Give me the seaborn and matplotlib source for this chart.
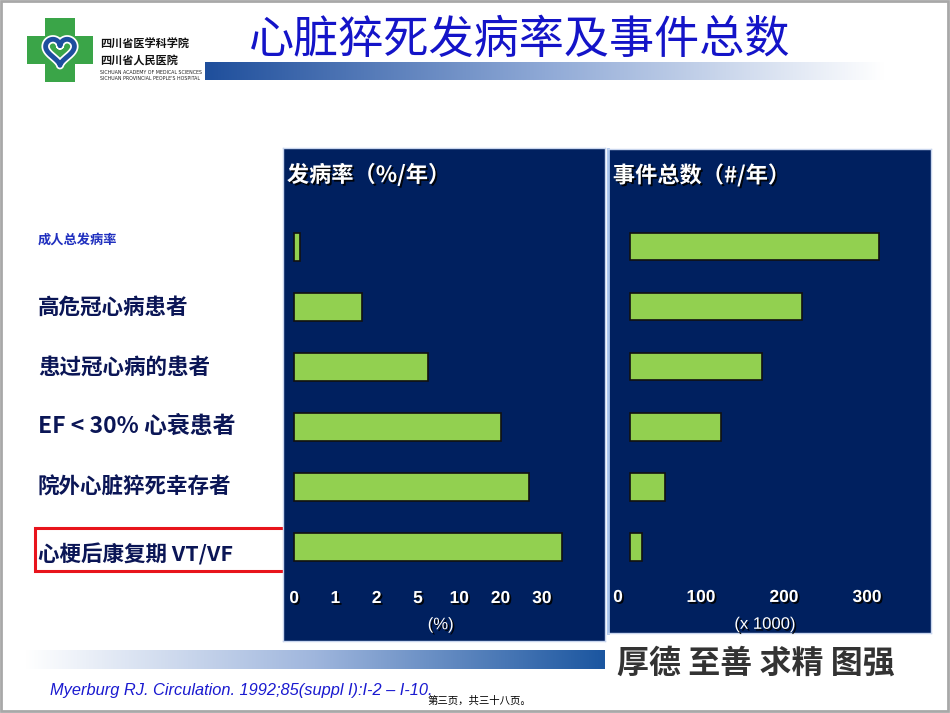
import numpy as np
import pandas as pd
import matplotlib
matplotlib.use("Agg")
import matplotlib.pyplot as plt
import matplotlib.patheffects as pe
from matplotlib.patches import Rectangle, Polygon
from matplotlib.colors import LinearSegmentedColormap
from matplotlib.transforms import blended_transform_factory, ScaledTranslation
import seaborn as sns

# ---------------------------------------------------------------------------
# Data
# ---------------------------------------------------------------------------
groups = ["成人总发病率", "高危冠心病患者", "患过冠心病的患者",
          "EF < 30% 心衰患者", "院外心脏猝死幸存者", "心梗后康复期 VT/VF"]
rate_pct = [0.15, 1.65, 6.2, 20.0, 26.8, 34.8]      # % per year
events_k = [300, 207, 159, 110, 42, 14]             # events per year, x 1000
rate_ticks = [0, 1, 2, 5, 10, 20, 30]
event_ticks = [0, 100, 200, 300]

NAVY = "#00205f"
GREEN = "#92d050"
INK = "#0b1656"
W, H = 950, 713

sns.set_theme(style="white")
plt.rcParams["font.family"] = ["Noto Sans CJK SC", "DejaVu Sans"]

shadow = [pe.SimplePatchShadow(offset=(1.3, -1.3), shadow_rgbFace="black", alpha=0.9),
          pe.Normal()]


def rect(x0, y0, x1, y1):
    """pixel box (top-left origin) -> figure fraction rect"""
    return [x0 / W, 1 - y1 / H, (x1 - x0) / W, (y1 - y0) / H]


# rate axis on the slide is piecewise: each tick gets the same width
def rate_fwd(v):
    v = np.asarray(v, float)
    out = np.interp(v, rate_ticks, np.arange(len(rate_ticks)))
    out = np.where(v < 0, v, out)
    return np.where(v > rate_ticks[-1], len(rate_ticks) - 1 + (v - rate_ticks[-1]) / 10, out)


def rate_inv(p):
    p = np.asarray(p, float)
    n = len(rate_ticks) - 1
    out = np.interp(p, np.arange(len(rate_ticks)), rate_ticks)
    out = np.where(p < 0, p, out)
    return np.where(p > n, rate_ticks[-1] + (p - n) * 10, out)


df = pd.DataFrame({"group": groups, "rate": rate_pct, "events": events_k})

fig = plt.figure(figsize=(9.5, 7.13), dpi=100)

# ---------------------------------------------------------------------------
# slide decoration (header, footer, frame)
# ---------------------------------------------------------------------------
deco = fig.add_axes([0, 0, 1, 1], zorder=0)
deco.set_xlim(0, W); deco.set_ylim(H, 0); deco.axis("off")

grad = np.linspace(0, 1, 256).reshape(1, -1)
top_cmap = LinearSegmentedColormap.from_list("top", ["#1f4f9c", "#8fa9d6", "#ffffff"])
deco.imshow(grad, cmap=top_cmap, extent=(205, 885, 80, 62), aspect="auto", zorder=1)
bot_cmap = LinearSegmentedColormap.from_list("bot", ["#ffffff", "#9fb6dd", "#1b56a0"])
deco.imshow(grad, cmap=bot_cmap, extent=(25, 605, 669, 650), aspect="auto", zorder=1)

# logo: green cross with blue heart
cross = [(45, 18), (75, 18), (75, 36), (93, 36), (93, 64), (75, 64), (75, 82),
         (45, 82), (45, 64), (27, 64), (27, 36), (45, 36)]
deco.add_patch(Polygon(cross, closed=True, fc="#3aa548", ec="none", zorder=2))
t = np.linspace(0, 2 * np.pi, 200)
hx = 60 + 16 * np.sin(t) ** 3 * 0.9
hy = 50 - (13 * np.cos(t) - 5 * np.cos(2 * t) - 2 * np.cos(3 * t) - np.cos(4 * t)) * 0.9
deco.plot(hx, hy, color="white", lw=6, zorder=3)
deco.plot(hx, hy, color="#1d4f9e", lw=3.5, zorder=4)
deco.text(100, 44, "四川省医学科学院", fontsize=8, fontweight="bold", color="#111",
          va="center", ha="left")
deco.text(100, 60, "四川省人民医院", fontsize=8, fontweight="bold", color="#111",
          va="center", ha="left")
deco.text(100, 73, "SICHUAN ACADEMY OF MEDICAL SCIENCES", fontsize=3.4, color="#222",
          va="center", ha="left", family="DejaVu Sans")
deco.text(100, 79, "SICHUAN PROVINCIAL PEOPLE'S HOSPITAL", fontsize=3.4, color="#222",
          va="center", ha="left", family="DejaVu Sans")

deco.text(520, 40, "心脏猝死发病率及事件总数", fontsize=32.5, color="#1414c8",
          ha="center", va="center", zorder=5)

deco.text(756, 664, "厚德 至善 求精 图强", fontsize=23, fontweight="bold",
          color="#333333", ha="center", va="center")
deco.text(50, 690, "Myerburg RJ. Circulation. 1992;85(suppl I):I-2 – I-10.",
          fontsize=11.8, style="italic", color="#1a1ad0", ha="left", va="center",
          family="Liberation Sans")
deco.text(428, 701, "第三页，共三十八页。", fontsize=7.5, color="black",
          ha="left", va="center")

# highlight box around the last group
deco.add_patch(Rectangle((35, 528), 249, 43, fill=False, ec="#e8141c", lw=2.2, zorder=6))
# slide frame
deco.add_patch(Rectangle((1, 1), W - 3, H - 3, fill=False, ec="#a8a8a8", lw=2, zorder=6))

# ---------------------------------------------------------------------------
# left panel: incidence rate
# ---------------------------------------------------------------------------
ax1 = fig.add_axes(rect(283, 148, 605, 641), zorder=2)
sns.barplot(data=df, x="rate", y="group", orient="h", color=GREEN, saturation=1,
            edgecolor="#111111", linewidth=1.2, width=0.46, ax=ax1)
ax1.set_xscale("function", functions=(rate_fwd, rate_inv))
ax1.set_xlim(rate_inv(-0.27), rate_inv(7.53))
ax1.set_ylim(6.57, -1.645)

# ---------------------------------------------------------------------------
# right panel: total events
# ---------------------------------------------------------------------------
ax2 = fig.add_axes(rect(608, 149, 931, 633), zorder=2)
sns.barplot(data=df, x="events", y="group", orient="h", color=GREEN, saturation=1,
            edgecolor="#111111", linewidth=1.2, width=0.46, ax=ax2)
ax2.set_xlim(-26.5, 362.7)
ax2.set_ylim(6.438, -1.628)

for ax, ticks, pad in [(ax1, rate_ticks, -36), (ax2, event_ticks, -31)]:
    ax.set_facecolor(NAVY)
    ax.set_xlabel(""); ax.set_ylabel("")
    ax.set_yticks([])
    ax.set_xticks(ticks)
    ax.set_xticklabels([str(v) for v in ticks])
    ax.xaxis.set_minor_locator(matplotlib.ticker.NullLocator())
    ax.tick_params(axis="x", length=0, pad=pad, labelcolor="white", labelsize=12.5)
    for lab in ax.get_xticklabels():
        lab.set_fontfamily("Liberation Sans")
        lab.set_fontweight("bold")
        lab.set_path_effects(shadow)
    for sp in ax.spines.values():
        sp.set_color("#c9d6ee")
        sp.set_linewidth(1)

# on the slide the event labels sit a little left of their bars' scale
nudge = ScaledTranslation(-0.12, 0, fig.dpi_scale_trans)
for tick in ax2.xaxis.get_major_ticks():
    tick.label1.set_transform(tick.label1.get_transform() + nudge)

ax2.spines["left"].set_color("#a9c4eb")
ax2.spines["left"].set_linewidth(2)

ax1.text(0.012, 0.945, "发病率（%/年）", transform=ax1.transAxes, fontsize=16,
         fontweight="bold", color="white", ha="left", va="center", path_effects=shadow)
ax2.text(0.015, 0.945, "事件总数（#/年）", transform=ax2.transAxes, fontsize=16,
         fontweight="bold", color="white", ha="left", va="center", path_effects=shadow)
ax1.text(0.49, 0.033, "(%)", transform=ax1.transAxes, fontsize=12, color="white",
         ha="center", va="center", family="Liberation Sans", path_effects=shadow)
ax2.text(0.486, 0.018, "(x 1000)", transform=ax2.transAxes, fontsize=12, color="white",
         ha="center", va="center", family="Liberation Sans", path_effects=shadow)

# group labels, left of the rate panel
label_dy = [-0.11, 0, 0, 0, 0, 0.12]
label_size = [9.5, 15.5, 15.5, 16.5, 15.5, 15.5]
label_color = ["#1f2fbf", INK, INK, INK, INK, INK]
trans = blended_transform_factory(fig.transFigure, ax1.transData)
for i, g in enumerate(groups):
    ax1.text(38 / W, i + label_dy[i], g, transform=trans, fontsize=label_size[i],
             fontweight="bold", color=label_color[i], ha="left", va="center")

fig.savefig("out.png", dpi=100)
